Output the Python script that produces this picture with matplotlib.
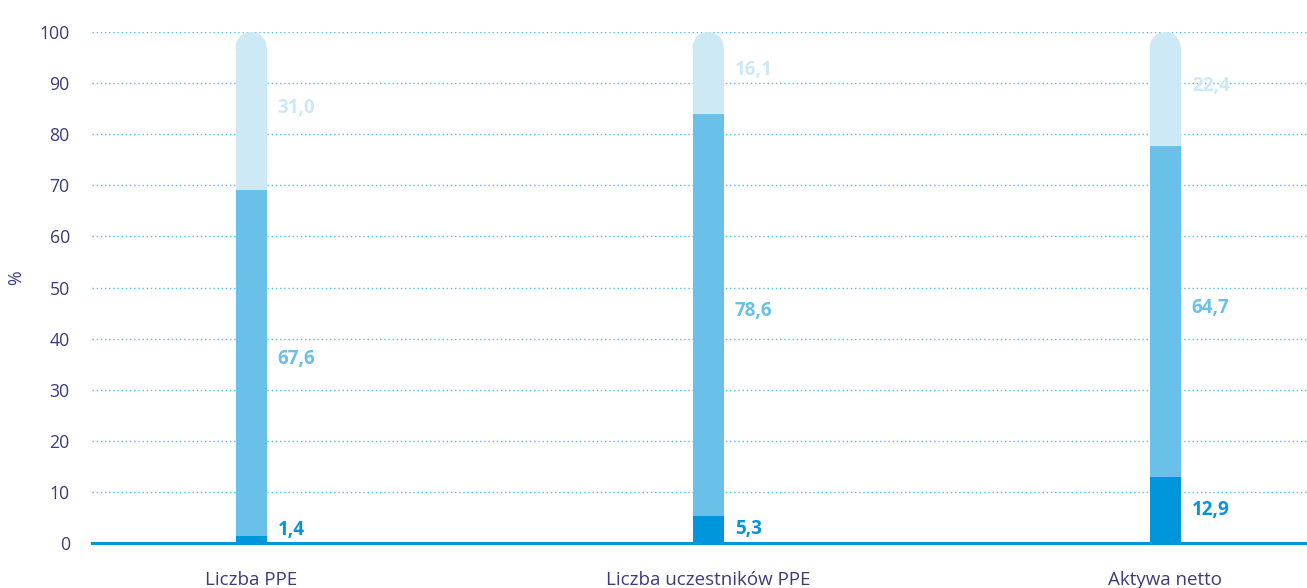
# -*- coding: utf-8 -*-
# Struktura PPE: liczba, uczestnicy, aktywa netto (%)

import matplotlib.pyplot as plt
from matplotlib.patches import Ellipse

kategorie = ['Liczba PPE', 'Liczba uczestników PPE', 'Aktywa netto']
seria_dolna = [1.4, 5.3, 12.9]
seria_srodkowa = [67.6, 78.6, 64.7]
seria_gorna = [31.0, 16.1, 22.4]
yticks = [0, 10, 20, 30, 40, 50, 60, 70, 80, 90, 100]

kolory = ['#0096db', '#69c0e9', '#cde9f6']
kolor_tekstu = '#3b3b7d'

plt.rcParams['font.family'] = ['Open Sans', 'DejaVu Sans']

fig = plt.figure(figsize=(13.07, 5.88), dpi=100)
ax = fig.add_axes([0.0704, 0.0765, 0.9296, 0.8691])

x = [0, 1, 2]
szer = 0.068
ax.bar(x, seria_dolna, width=szer, color=kolory[0], linewidth=0, zorder=3)
ax.bar(x, seria_srodkowa, width=szer, bottom=seria_dolna, color=kolory[1],
       linewidth=0, zorder=3)

# górny segment z zaokrągloną końcówką
r_y = 3.0
dol_gorny = [a + b for a, b in zip(seria_dolna, seria_srodkowa)]
ax.bar(x, [g - r_y for g in seria_gorna], width=szer, bottom=dol_gorny,
       color=kolory[2], linewidth=0, zorder=3)
for xi, d, g in zip(x, dol_gorny, seria_gorna):
    ax.add_patch(Ellipse((xi, d + g - r_y), szer, 2 * r_y, facecolor=kolory[2],
                         linewidth=0, zorder=3, clip_on=False))

# etykiety wartości
dx = szer / 2 + 0.024
for xi, a, b, c in zip(x, seria_dolna, seria_srodkowa, seria_gorna):
    for val, srodek, kol in [(a, max(a / 2, 2.6), kolory[0]),
                             (b, a + b / 2 + 0.8, kolory[1]),
                             (c, a + b + c / 2 + 0.6, kolory[2])]:
        ax.text(xi + dx, srodek, f'{val:.1f}'.replace('.', ','), color=kol,
                fontsize=13.5, fontweight='bold', ha='left', va='center')

ax.set_xlim(-0.348, 2.31)
ax.set_ylim(0, 100)
ax.set_yticks(yticks)
ax.set_xticks(x)
ax.set_xticklabels(kategorie)
ax.tick_params(axis='y', length=0, pad=16, labelsize=12.7, labelcolor=kolor_tekstu)
ax.tick_params(axis='x', length=0, pad=20, labelsize=13.5, labelcolor=kolor_tekstu)
ax.grid(axis='y', linestyle=(0, (1, 2)), color='#4cc0ee', linewidth=1, zorder=0)

for s in ['top', 'right', 'left']:
    ax.spines[s].set_visible(False)
ax.spines['bottom'].set_color('#0096db')
ax.spines['bottom'].set_linewidth(2.2)
ax.spines['bottom'].set_zorder(4)

ax.set_ylabel('%', color=kolor_tekstu, fontsize=12.7)
ax.yaxis.set_label_coords(-0.055, 0.52)

fig.savefig('out.png', dpi=100)
